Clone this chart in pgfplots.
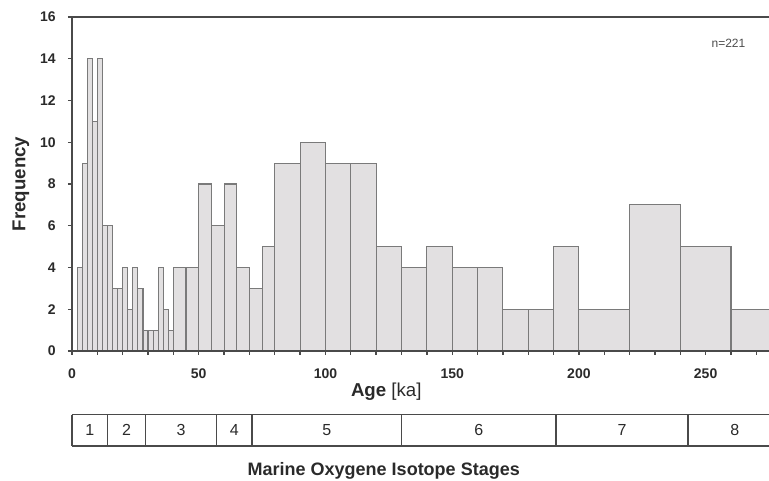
\documentclass[border=0pt]{standalone}
\usepackage{fontspec}
\setmainfont{Liberation Sans}
\usepackage{pgfplots}
\pgfplotsset{compat=1.18}
\definecolor{barfill}{HTML}{E2E0E1}
\definecolor{baredge}{HTML}{7A7A7A}
\definecolor{axisgray}{HTML}{4A4A4A}
\definecolor{textgray}{HTML}{2A2A2A}
\begin{document}
\begin{tikzpicture}
\begin{axis}[
  at={(0,0)}, anchor=south west,
  scale only axis, width=522.75pt, height=250.5pt,
  xmin=0, xmax=275, ymin=0, ymax=16,
  clip=false, axis on top,
  axis x line=box, axis y line=left,
  axis line style={-, draw=axisgray, line width=1.3pt},
  xtick={0,50,...,250}, minor xtick={10,20,...,270},
  ytick={0,2,...,16},
  xtick pos=left, ytick pos=left,
  tick align=outside, major tick length=3pt, minor tick length=3pt,
  tick style={draw=axisgray, line width=1pt},
  ticklabel style={font=\bfseries\fontsize{10.5}{12}\selectfont, text=textgray},
  /pgf/number format/assume math mode=true,
  xticklabel style={anchor=north, inner sep=0pt, yshift=-10pt},
  yticklabel style={anchor=east, inner sep=0pt, xshift=-9pt},
]
\addplot[ybar interval, fill=barfill, draw=baredge, line width=0.85pt] coordinates {
(2,4) (4,9) (6,14) (8,11) (10,14) (12,6) (14,6) (16,3) (18,3) (20,4)
(22,2) (24,4) (26,3) (28,1) (30,1) (32,1) (34,4) (36,2) (38,1)
(40,4) (45,4) (50,8) (55,6) (60,8) (65,4) (70,3) (75,5)
(80,9) (90,10) (100,9) (110,9) (120,5) (130,4) (140,5) (150,4) (160,4) (170,2) (180,2) (190,5)
(200,2) (220,7) (240,5) (260,2) (280,0)
};
% labels
\node[anchor=base, font=\fontsize{14}{16}\selectfont, text=textgray] at (axis cs:124,-2.2) {\textbf{Age} [ka]};
\node[rotate=90, font=\bfseries\fontsize{14}{16}\selectfont, text=textgray] at (axis cs:-20.2,8) {Frequency};
\node[font=\fontsize{9}{11}\selectfont, text=black!70] at (axis cs:259,14.75) {n=221};
% MIS stages box
\draw[axisgray, line width=1pt] (axis cs:0,-3.05) -- (axis cs:280,-3.05);
\draw[axisgray, line width=1pt] (axis cs:0,-4.55) -- (axis cs:280,-4.55);
\draw[axisgray, line width=1pt] (axis cs:0,-3.05) -- (axis cs:0,-4.55);
\draw[axisgray, line width=1pt] (axis cs:14,-3.05) -- (axis cs:14,-4.55);
\draw[axisgray, line width=1pt] (axis cs:29,-3.05) -- (axis cs:29,-4.55);
\draw[axisgray, line width=1pt] (axis cs:57,-3.05) -- (axis cs:57,-4.55);
\draw[axisgray, line width=1pt] (axis cs:71,-3.05) -- (axis cs:71,-4.55);
\draw[axisgray, line width=1pt] (axis cs:130,-3.05) -- (axis cs:130,-4.55);
\draw[axisgray, line width=1pt] (axis cs:191,-3.05) -- (axis cs:191,-4.55);
\draw[axisgray, line width=1pt] (axis cs:243,-3.05) -- (axis cs:243,-4.55);
\node[font=\fontsize{12}{14}\selectfont, text=textgray] at (axis cs:7,-3.8) {1};
\node[font=\fontsize{12}{14}\selectfont, text=textgray] at (axis cs:21.5,-3.8) {2};
\node[font=\fontsize{12}{14}\selectfont, text=textgray] at (axis cs:43,-3.8) {3};
\node[font=\fontsize{12}{14}\selectfont, text=textgray] at (axis cs:64,-3.8) {4};
\node[font=\fontsize{12}{14}\selectfont, text=textgray] at (axis cs:100.5,-3.8) {5};
\node[font=\fontsize{12}{14}\selectfont, text=textgray] at (axis cs:160.5,-3.8) {6};
\node[font=\fontsize{12}{14}\selectfont, text=textgray] at (axis cs:217,-3.8) {7};
\node[font=\fontsize{12}{14}\selectfont, text=textgray] at (axis cs:261.5,-3.8) {8};
\node[anchor=base, font=\bfseries\fontsize{13.5}{15}\selectfont, text=textgray] at (axis cs:123,-5.95) {Marine Oxygene Isotope Stages};
\end{axis}
\pgfresetboundingbox
\path[use as bounding box] (-54pt,-97.5pt) rectangle (522.75pt,263.25pt);
\end{tikzpicture}
\end{document}
